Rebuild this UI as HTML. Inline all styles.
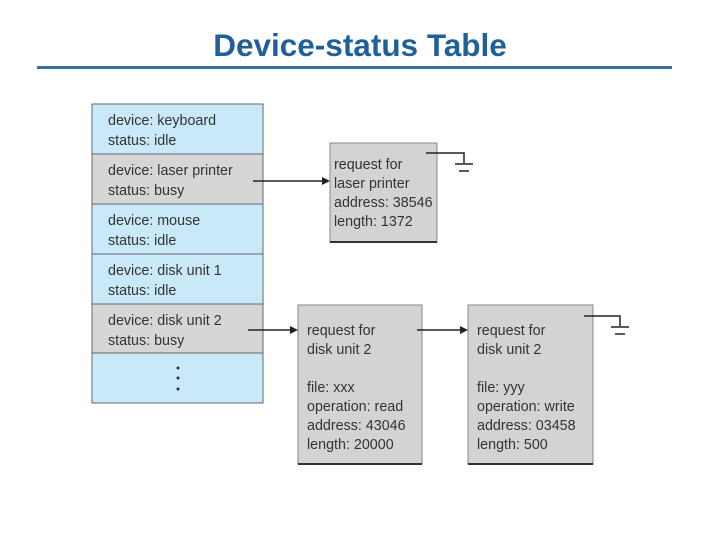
<!DOCTYPE html>
<html><head><style>
html,body{margin:0;padding:0;background:#fff;}
svg{display:block;}
text{font-family:"Liberation Sans",sans-serif;}
</style></head><body>
<svg width="720" height="540" viewBox="0 0 720 540" xmlns="http://www.w3.org/2000/svg">
<text x="360" y="56" text-anchor="middle" font-size="31.5" font-weight="bold" fill="#1f5f9a">Device-status Table</text>
<rect x="37" y="66" width="635" height="3" fill="#3a6ea5"/>
<g stroke="#666" stroke-width="1">
<rect x="92" y="104" width="171" height="50" fill="#c9e9f9"/>
<rect x="92" y="154" width="171" height="50" fill="#d6d6d6"/>
<rect x="92" y="204" width="171" height="50" fill="#c9e9f9"/>
<rect x="92" y="254" width="171" height="50" fill="#c9e9f9"/>
<rect x="92" y="304" width="171" height="49" fill="#d6d6d6"/>
<rect x="92" y="353" width="171" height="50" fill="#c9e9f9"/>
</g>
<g font-size="14.3" fill="#333">
<text x="108" y="125">device: keyboard</text><text x="108" y="145">status: idle</text>
<text x="108" y="175">device: laser printer</text><text x="108" y="195">status: busy</text>
<text x="108" y="225">device: mouse</text><text x="108" y="245">status: idle</text>
<text x="108" y="275">device: disk unit 1</text><text x="108" y="295">status: idle</text>
<text x="108" y="325">device: disk unit 2</text><text x="108" y="345">status: busy</text>
</g>
<g fill="#333"><circle cx="178" cy="368" r="1.5"/><circle cx="178" cy="378" r="1.5"/><circle cx="178" cy="389" r="1.5"/></g>
<g fill="#d3d3d3" stroke="#888" stroke-width="1">
<rect x="330" y="143" width="107" height="99"/>
<rect x="298" y="305" width="124" height="159"/>
<rect x="468" y="305" width="125" height="159"/>
</g>
<g stroke="#333" stroke-width="2"><line x1="330" y1="242" x2="437" y2="242"/><line x1="298" y1="464" x2="422" y2="464"/><line x1="468" y1="464" x2="593" y2="464"/></g>
<g font-size="14.3" fill="#333">
<text x="334" y="169">request for</text><text x="334" y="188">laser printer</text><text x="334" y="207">address: 38546</text><text x="334" y="226">length: 1372</text>
<text x="307" y="335">request for</text><text x="307" y="354">disk unit 2</text><text x="307" y="392">file: xxx</text><text x="307" y="411">operation: read</text><text x="307" y="430">address: 43046</text><text x="307" y="449">length: 20000</text>
<text x="477" y="335">request for</text><text x="477" y="354">disk unit 2</text><text x="477" y="392">file: yyy</text><text x="477" y="411">operation: write</text><text x="477" y="430">address: 03458</text><text x="477" y="449">length: 500</text>
</g>
<g stroke="#222" stroke-width="1.5" fill="none">
<line x1="253" y1="181" x2="324" y2="181"/>
<line x1="248" y1="330" x2="292" y2="330"/>
<line x1="417" y1="330" x2="462" y2="330"/>
<polyline points="426,153 464,153 464,163"/><line x1="455" y1="164" x2="473" y2="164"/><line x1="459" y1="171" x2="469" y2="171"/>
<polyline points="584,316 620,316 620,326"/><line x1="611" y1="327" x2="629" y2="327"/><line x1="615" y1="334" x2="625" y2="334"/>
</g>
<g fill="#222">
<polygon points="330,181 322,177 322,185"/>
<polygon points="298,330 290,326 290,334"/>
<polygon points="468,330 460,326 460,334"/>
</g>
</svg>
</body></html>
